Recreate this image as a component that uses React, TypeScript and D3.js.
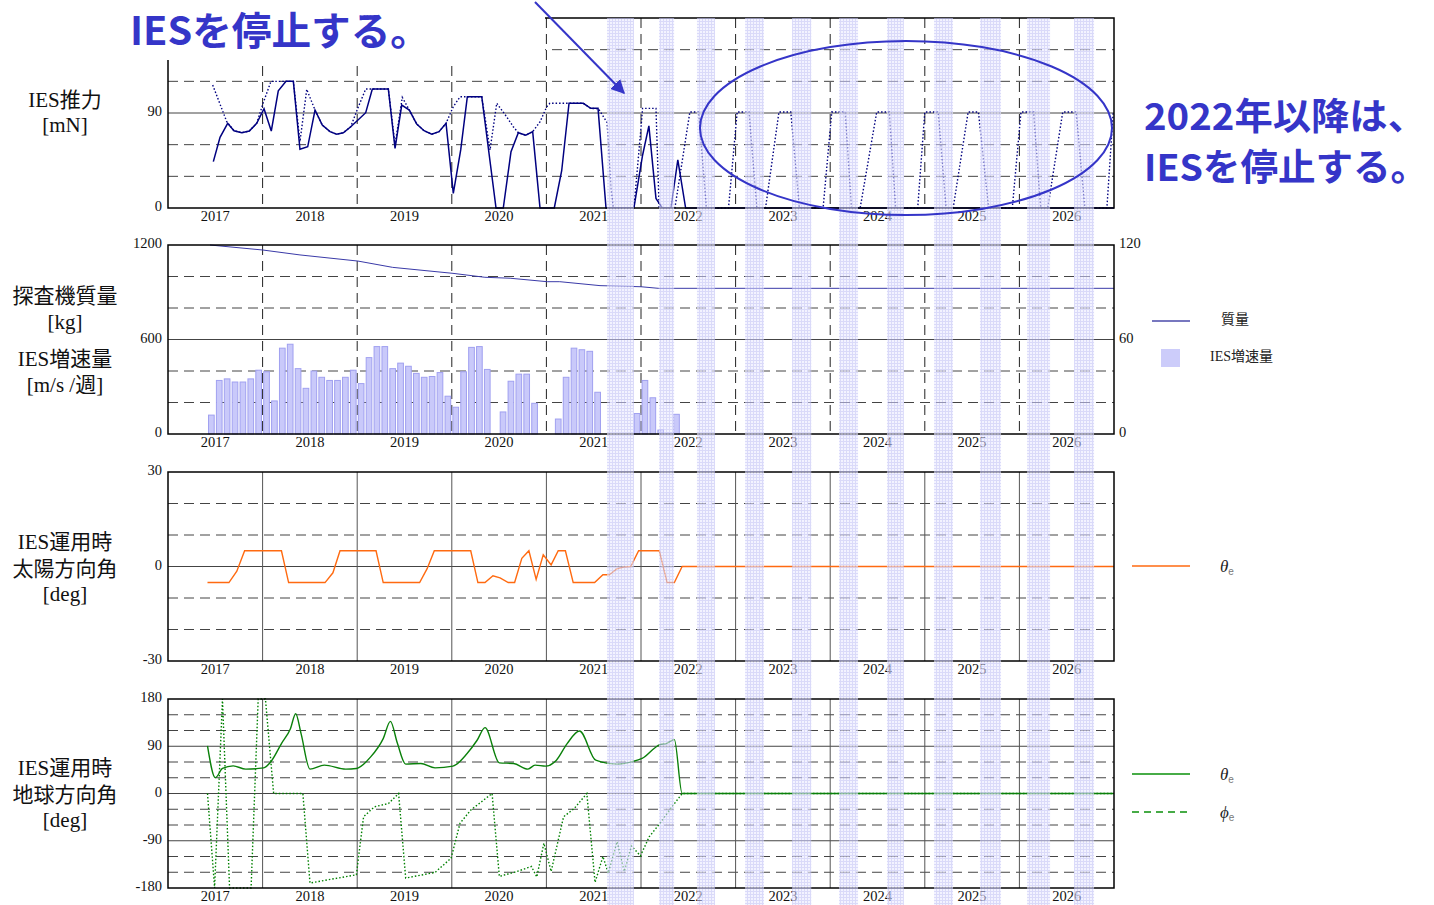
import React from "react";
import * as d3 from "d3";

// ---------- data (x = months from Jan 2017) ----------
const yearLabels = [2017, 2018, 2019, 2020, 2021, 2022, 2023, 2024, 2025, 2026];
const yearBoundaries = [12, 24, 36, 48, 60, 72, 84, 96, 108];

// IES thrust [mN]: actual (solid)
const thrustActual: [number, number][] = [
  [5.75, 43.9], [6.6, 67], [7.57, 80.2], [8.37, 73.2], [9.35, 71.3], [10.31, 72.9], [11.25, 80.2],
  [12.18, 94], [13.1, 72.9], [13.99, 111], [14.97, 120], [15.9, 120], [16.74, 55.6], [17.72, 58],
  [18.65, 92.8], [19.57, 78.6], [20.55, 72.3], [21.4, 70], [22.24, 71.3], [23.18, 77], [24.1, 83.3],
  [25.08, 90.3], [25.92, 112.7], [27.95, 112.7], [28.8, 56.5], [29.65, 97.5], [30.61, 92.8],
  [31.55, 79.6], [32.48, 73.2], [33.45, 70], [34.38, 72.3], [35.27, 80.2], [36.19, 13.9], [37.13, 55],
  [37.97, 105.4], [39.8, 105.4], [41.61, 0], [42.53, 0], [43.51, 53.3], [44.44, 71.3], [45.38, 69],
  [46.26, 72.3], [47.19, 0], [49.0, 0], [49.94, 35.3], [50.87, 99.2], [52.68, 99.2], [53.62, 94.4],
  [54.55, 94.4], [55.56, 0], [59.1, 0], [60.2, 50], [61.0, 77.8], [61.9, 9], [62.7, 0], [63.8, 0],
  [64.67, 45.7], [65.66, 0], [120, 0],
];
// IES thrust [mN]: available (dotted)
const thrustAvailable: [number, number][] = [
  [5.67, 116.5], [7.45, 81.8], [8.37, 73.2], [9.35, 71.3], [10.31, 72.9], [11.25, 80.2], [12.1, 100],
  [13.06, 120], [15.9, 120], [16.74, 62.8], [17.6, 112.4], [18.65, 92.8], [19.57, 78.6], [20.55, 72.3],
  [21.4, 70], [22.24, 71.3], [23.18, 77], [24.1, 95], [25.08, 112.7], [27.95, 112.7], [28.8, 60],
  [29.72, 104.8], [30.61, 92.8], [31.55, 79.6], [32.48, 73.2], [33.45, 70], [34.38, 72.3], [35.27, 80.2],
  [36.19, 96], [37.05, 105.4], [39.8, 105.4], [40.85, 55], [41.7, 99.2], [42.95, 86.5], [43.8, 77],
  [44.44, 71.3], [45.38, 69], [46.26, 72.3], [47.2, 81.8], [48.05, 96], [48.45, 99.2], [52.68, 99.2],
  [53.62, 94.4], [54.6, 94], [55.7, 81], [56.2, 18.6], [56.5, 0], [59.1, 0], [60, 76], [60.2, 94.4],
  [61.9, 94.4], [62.3, 0], [64.3, 0], [66.2, 91], [67.3, 91], [68.3, 0], [71.1, 0], [72.2, 91],
  [73.7, 91], [74.7, 0], [75.8, 0], [77.5, 91], [79, 91], [80.1, 0], [83.1, 0], [84.2, 91], [85.9, 91],
  [86.7, 0], [87.8, 0], [89.9, 91], [91.5, 91], [92.3, 0], [95.1, 0], [96, 91], [97.7, 91], [98.7, 0],
  [99.6, 0], [101.5, 91], [102.8, 91], [104.1, 0], [107.1, 0], [108.2, 91], [109.8, 91], [110.7, 0],
  [111.6, 0], [113.5, 91], [115.2, 91], [116.3, 0], [119.1, 0], [119.9, 91],
];

// IES delta-V [m/s/week], monthly bars from dvStartMonth
const dvStartMonth = 5;
const dvValues = [
  12, 34, 35, 33, 33, 35, 40.5, 39.5, 21, 54.5, 57, 41.5, 29, 40, 36, 34, 34, 36, 40.5, 32,
  48.5, 55.5, 55.5, 41.5, 45, 43, 38.5, 36, 36.5, 39, 24, 17, 39.5, 55, 55.5, 41, 0, 14, 33.5, 38,
  38, 19.5, 0, 0, 9.5, 36, 54.5, 53.5, 52.5, 26.5, 0, 0, 0, 0, 13, 34, 23, 2.5, 0.5, 12.5,
];

// spacecraft mass [kg]
const massKg: [number, number][] = [
  [5.33, 1200], [12.05, 1168], [16.74, 1137], [24.1, 1098], [28.5, 1058], [36.15, 1020], [40.2, 995],
  [43.4, 989], [48.1, 967], [49.7, 967], [54.8, 942], [60, 935], [62.2, 925], [120, 925],
];

// sun direction angle θe [deg]
const sunTheta: [number, number][] = [
  [5.01, -5.1], [7.73, -5.1], [8.73, -1.5], [9.72, 5], [14.39, 5], [15.3, -5.1], [19.92, -5.1],
  [20.92, -2], [21.82, 5], [26.39, 5], [27.3, -5.1], [31.92, -5.1], [32.87, -0.7], [33.78, 5],
  [38.4, 5], [39.31, -5.1], [40.21, -5.1], [41.22, -2.95], [42.12, -3.6], [43.16, -5.1], [43.97, -5.1],
  [44.88, 2.6], [45.78, 5], [46.7, -4.1], [47.6, 3.7], [48.6, 0.5], [49.5, 5], [50.41, 5], [51.4, -5.1],
  [54.12, -5.1], [55.17, -2.6], [55.98, -2.6], [56.97, -0.7], [57.8, -0.2], [58.7, 0], [59.7, 5],
  [62.32, 5], [63.31, -5.1], [64.23, -5.1], [65.22, 0], [120, 0],
];

// earth direction angles [deg]
const earthTheta: [number, number][] = [
  [5.01, 90.5], [6.01, 30], [6.91, 47.7], [8.27, 52.7], [9.86, 46.4], [12.13, 48.9], [13.03, 60.3],
  [14.39, 95.1], [15.53, 123.5], [16.2, 152], [16.88, 114], [18.01, 46.4], [19.83, 54], [22.54, 46.4],
  [23.9, 47.7], [25.71, 69.7], [27.3, 104.6], [28.21, 137.4], [29.11, 95.1], [30.15, 56], [32.06, 57.2],
  [33.87, 48.9], [36.14, 52.1], [37.94, 76.2], [39.21, 101.4], [40.21, 125.4], [42.03, 58.4],
  [43.84, 57.2], [45.66, 46.4], [46.56, 54], [47.91, 52.1], [49.27, 63.5], [50.63, 95.1], [52.21, 119],
  [54.26, 63.5], [56.97, 56], [58.79, 60.3], [60.14, 66.7], [62.41, 93.2], [63.22, 95.1],
  [64.23, 102.7], [65.22, 0], [120, 0],
];
const earthPhi: [number, number][] = [
  [5.01, 0], [5.91, -180], [6.91, 180], [7.81, -180], [10.54, -180], [11.44, 180], [12.36, 180],
  [13.4, 0], [17.11, 0], [18.01, -170.5], [23.9, -154.8], [24.18, -120], [24.81, -44.3], [26.17, -25.4],
  [27.98, -19], [29.25, 0], [30.15, -161], [33.87, -150.4], [35.91, -123.2], [37.04, -56.8],
  [38.4, -31.6], [41.11, 0], [42.03, -158], [44.28, -148.5], [46.1, -139], [46.78, -159],
  [47.68, -94.7], [48.6, -148.5], [50.18, -44.3], [51.54, -28.4], [53.13, 0], [54.17, -169.4],
  [55.17, -120], [55.84, -151.6], [56.97, -91.7], [57.88, -148.5], [58.79, -99.8], [59.93, -118.8],
  [61.05, -82.2], [62.41, -56.8], [63.77, -28.4], [65.22, 0], [120, 0],
];

// IES stop periods (shaded bands) [start month, end month]
const stopPeriods: [number, number][] = [
  [55.69, 59.11], [62.29, 64.2], [67.1, 69.39], [73.2, 75.6], [79.16, 81.6], [85.12, 87.53],
  [91.2, 93.35], [97.17, 99.58], [103, 105.67], [108.97, 111.89], [114.93, 117.47],
];

// axis ticks / grids
const thrustTicks = [0, 90];
const thrustDashed = [30, 60, 120, 150];
const thrustSolid = [90];
const massTicks = [0, 600, 1200];
const massDashed = [200, 400, 800, 1000];
const massSolid = [600];
const dvTicks = [0, 60, 120];
const sunTicks = [-30, 0, 30];
const sunDashed = [-20, -10, 10, 20];
const sunSolid = [0];
const earthTicks = [-180, -90, 0, 90, 180];
const earthDashed = [-150, -120, -60, -30, 30, 60, 120, 150];
const earthSolid = [-90, 0, 90];

const NUM_FONT = "'Liberation Serif', 'Times New Roman', serif";
const JP_FONT = "'Liberation Serif', 'Noto Sans CJK JP', serif";
const ANN_FONT = "'Noto Sans CJK JP', 'Noto Sans', sans-serif";
const ANN_COLOR = "#3535c8";

const L = 168, R = 1114;

export default function App() {
  const x = d3.scaleLinear().domain([0, 120]).range([L, R]);
  const yT = d3.scaleLinear().domain([0, 180]).range([208, 18]);
  const yM = d3.scaleLinear().domain([0, 1200]).range([434, 245]);
  const yV = d3.scaleLinear().domain([0, 120]).range([434, 245]);
  const yS = d3.scaleLinear().domain([-30, 30]).range([661, 472]);
  const yE = d3.scaleLinear().domain([-180, 180]).range([888, 699]);

  const mk = (ys: d3.ScaleLinear<number, number>, curve: d3.CurveFactory = d3.curveLinear) =>
    d3.line<[number, number]>().x((d) => x(d[0])).y((d) => ys(d[1])).curve(curve);

  const panel = (
    key: string,
    ys: d3.ScaleLinear<number, number>,
    dashedVals: number[],
    solidVals: number[],
    ticks: number[],
    vSolid: boolean
  ) => {
    const [bottom, top] = ys.range();
    return (
      <g key={key}>
        {dashedVals.map((v) => (
          <line key={"hd" + v} x1={L} x2={R} y1={ys(v)} y2={ys(v)} stroke="#444" strokeWidth={1} strokeDasharray="10 6" />
        ))}
        {solidVals.map((v) => (
          <line key={"hs" + v} x1={L} x2={R} y1={ys(v)} y2={ys(v)} stroke="#444" strokeWidth={1} />
        ))}
        {yearBoundaries.map((m) => (
          <line key={"v" + m} x1={x(m)} x2={x(m)} y1={top} y2={bottom} stroke={vSolid ? "#555" : "#222"} strokeWidth={1}
            strokeDasharray={vSolid ? undefined : "10 6"} />
        ))}
        {ticks.map((t) => (
          <text key={"t" + t} x={162} y={ys(t)} textAnchor="end" dominantBaseline="middle" fontFamily={NUM_FONT} fontSize={14.5} fill="#111">
            {t}
          </text>
        ))}
        {yearLabels.map((yr, i) => (
          <text key={"x" + yr} x={x(i * 12 + 6)} y={bottom + 10} textAnchor="middle" dominantBaseline="middle" fontFamily={NUM_FONT} fontSize={14.5} fill="#111">
            {yr}
          </text>
        ))}
      </g>
    );
  };

  const frame = (ys: d3.ScaleLinear<number, number>, key: string) => {
    const [bottom, top] = ys.range();
    return <rect key={key} x={L} y={top} width={R - L} height={bottom - top} fill="none" stroke="#000" strokeWidth={1.5} />;
  };

  const barW = x(0.72) - x(0);

  return (
    <svg width={1434} height={905} style={{ position: "absolute", left: 0, top: 0, background: "#fff" }}>
      <defs>
        <pattern id="hatch" width={3} height={3} patternUnits="userSpaceOnUse">
          <rect width={3} height={3} fill="#ececff" />
          <path d="M0 0.5H3M0.5 0V3" stroke="#c4c4f6" strokeWidth={1} />
        </pattern>
        <marker id="arrow" viewBox="0 0 10 10" refX={9} refY={5} markerWidth={7} markerHeight={7} orient="auto">
          <path d="M0,0 L10,5 L0,10 z" fill={ANN_COLOR} />
        </marker>
      </defs>
      <rect x={0} y={0} width={1434} height={905} fill="#fff" />

      {/* Panel 1: thrust */}
      {panel("p1", yT, thrustDashed, thrustSolid, thrustTicks, false)}
      <path d={mk(yT)(thrustAvailable) || ""} fill="none" stroke="#000080" strokeWidth={1.4} strokeDasharray="1.5 2" />
      <path d={mk(yT)(thrustActual) || ""} fill="none" stroke="#000080" strokeWidth={1.5} />
      {frame(yT, "f1")}

      {/* Panel 2: mass & delta-V */}
      {panel("p2", yM, massDashed, massSolid, massTicks, false)}
      {dvValues.map((v, i) =>
        v > 0 ? (
          <rect key={"b" + i} x={x(dvStartMonth + i + 0.14)} y={yV(v)} width={barW} height={yV(0) - yV(v)}
            fill="#c9c9fa" stroke="#a0a0f0" strokeWidth={1} />
        ) : null
      )}
      <path d={mk(yM)(massKg) || ""} fill="none" stroke="#3a3aa8" strokeWidth={1} />
      {dvTicks.map((t) => (
        <text key={"r" + t} x={1119} y={yV(t)} textAnchor="start" dominantBaseline="middle" fontFamily={NUM_FONT} fontSize={14.5} fill="#111">
          {t}
        </text>
      ))}
      {frame(yM, "f2")}

      {/* Panel 3: sun angle */}
      {panel("p3", yS, sunDashed, sunSolid, sunTicks, true)}
      <path d={mk(yS)(sunTheta) || ""} fill="none" stroke="#ff6a10" strokeWidth={1.4} />
      {frame(yS, "f3")}

      {/* Panel 4: earth angles */}
      {panel("p4", yE, earthDashed, earthSolid, earthTicks, true)}
      <path d={mk(yE)(earthPhi) || ""} fill="none" stroke="#008000" strokeWidth={1.4} strokeDasharray="1.5 2" />
      <path d={mk(yE, d3.curveMonotoneX)(earthTheta) || ""} fill="none" stroke="#0a800a" strokeWidth={1.4} />
      {frame(yE, "f4")}

      {/* white box covering top-left of panel 1 */}
      <rect x={0} y={0} width={545} height={60} fill="#fff" />

      {/* stop bands */}
      {stopPeriods.map(([a, b], i) => (
        <rect key={"band" + i} x={x(a)} y={18} width={x(b) - x(a)} height={905 - 18} fill="url(#hatch)" opacity={0.62} />
      ))}

      {/* left labels */}
      <g fontFamily={JP_FONT} fontSize={21} textAnchor="middle" fill="#111">
        <text x={65} y={107}>IES推力</text>
        <text x={65} y={132}>[mN]</text>
        <text x={65} y={303}>探査機質量</text>
        <text x={65} y={329}>[kg]</text>
        <text x={65} y={366}>IES増速量</text>
        <text x={65} y={392}>[m/s /週]</text>
        <text x={65} y={549}>IES運用時</text>
        <text x={65} y={576}>太陽方向角</text>
        <text x={65} y={601}>[deg]</text>
        <text x={65} y={775}>IES運用時</text>
        <text x={65} y={802}>地球方向角</text>
        <text x={65} y={827}>[deg]</text>
      </g>

      {/* legends */}
      <line x1={1152} x2={1190} y1={321} y2={321} stroke="#4a4aaa" strokeWidth={1.5} />
      <text x={1221} y={321} dominantBaseline="middle" fontFamily={JP_FONT} fontSize={14} fill="#222">質量</text>
      <rect x={1161} y={349} width={19} height={18} fill="#ccccfa" />
      <text x={1210} y={358} dominantBaseline="middle" fontFamily={JP_FONT} fontSize={14} fill="#222">IES増速量</text>

      <line x1={1132} x2={1190} y1={566} y2={566} stroke="#ff6a10" strokeWidth={1.5} />
      <text x={1220} y={572} fontFamily={NUM_FONT} fontSize={17} fill="#222">
        <tspan fontStyle="italic">θ</tspan>
        <tspan fontFamily="'Liberation Sans', sans-serif" fontSize={10} fill="#777" dy={3}>e</tspan>
      </text>

      <line x1={1132} x2={1190} y1={774} y2={774} stroke="#0a900a" strokeWidth={1.5} />
      <text x={1220} y={780} fontFamily={NUM_FONT} fontSize={17} fill="#222">
        <tspan fontStyle="italic">θ</tspan>
        <tspan fontFamily="'Liberation Sans', sans-serif" fontSize={10} fill="#777" dy={3}>e</tspan>
      </text>
      <line x1={1132} x2={1190} y1={812} y2={812} stroke="#0a900a" strokeWidth={1.5} strokeDasharray="7 5" />
      <text x={1220} y={818} fontFamily={NUM_FONT} fontSize={17} fill="#222">
        <tspan fontStyle="italic">ϕ</tspan>
        <tspan fontFamily="'Liberation Sans', sans-serif" fontSize={10} fill="#777" dy={3}>e</tspan>
      </text>

      {/* annotations */}
      <ellipse cx={906} cy={128} rx={206} ry={87} fill="none" stroke={ANN_COLOR} strokeWidth={2} />
      <line x1={535} y1={2} x2={624} y2={93} stroke={ANN_COLOR} strokeWidth={2} markerEnd="url(#arrow)" />
      <g fontFamily={ANN_FONT} fontWeight={700} fill={ANN_COLOR}>
        <text x={130} y={45} fontSize={39} textLength={300} lengthAdjust="spacingAndGlyphs">IESを停止する。</text>
        <text x={1144} y={130} fontSize={37} textLength={282} lengthAdjust="spacingAndGlyphs">2022年以降は、</text>
        <text x={1144} y={181} fontSize={37} textLength={284} lengthAdjust="spacingAndGlyphs">IESを停止する。</text>
      </g>
    </svg>
  );
}
